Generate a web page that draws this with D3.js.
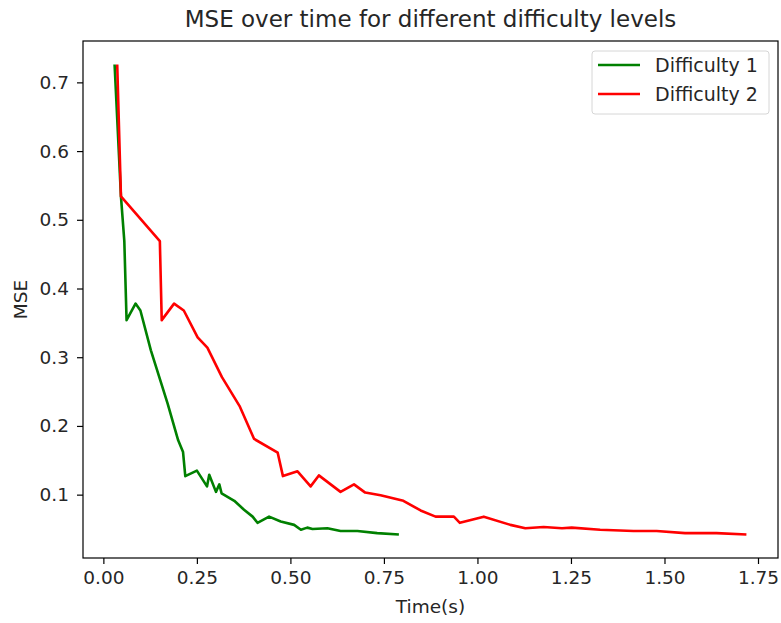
<!DOCTYPE html>
<html>
<head>
<meta charset="utf-8">
<script src="https://cdn.jsdelivr.net/npm/d3@7"></script>
<style>
  body { margin: 0; background: #fff; }
  svg { display: block; font-family: "DejaVu Sans", sans-serif; }
</style>
</head>
<body>
<svg id="chart" width="781" height="623"></svg>
<script>
// Difficulty 1 (green)
const time1 = [0.030, 0.047, 0.056, 0.062, 0.086, 0.099, 0.127, 0.172, 0.200, 0.213, 0.219, 0.250,
  0.277, 0.283, 0.301, 0.310, 0.316, 0.350, 0.376, 0.399, 0.412, 0.443, 0.474, 0.510, 0.528,
  0.545, 0.559, 0.599, 0.634, 0.679, 0.732, 0.790];
const mse1 = [0.726, 0.534, 0.469, 0.354, 0.378, 0.368, 0.310, 0.232, 0.179, 0.162, 0.127, 0.135,
  0.112, 0.129, 0.104, 0.115, 0.102, 0.091, 0.078, 0.068, 0.059, 0.068, 0.061, 0.056, 0.049,
  0.052, 0.050, 0.051, 0.047, 0.047, 0.044, 0.042];

// Difficulty 2 (red)
const time2 = [0.037, 0.047, 0.151, 0.156, 0.189, 0.215, 0.252, 0.278, 0.317, 0.365, 0.403, 0.466,
  0.480, 0.519, 0.554, 0.576, 0.634, 0.670, 0.700, 0.741, 0.802, 0.848, 0.888, 0.937, 0.953,
  1.017, 1.088, 1.128, 1.177, 1.226, 1.252, 1.328, 1.417, 1.479, 1.555, 1.639, 1.719];
const mse2 = [0.726, 0.534, 0.469, 0.354, 0.378, 0.368, 0.329, 0.314, 0.271, 0.228, 0.181, 0.161,
  0.127, 0.134, 0.112, 0.128, 0.104, 0.115, 0.103, 0.099, 0.091, 0.077, 0.068, 0.068, 0.059,
  0.068, 0.056, 0.051, 0.053, 0.051, 0.052, 0.049, 0.047, 0.047, 0.044, 0.044, 0.042];

const xTicks = [0, 0.25, 0.5, 0.75, 1.0, 1.25, 1.5, 1.75];
const yTicks = [0.1, 0.2, 0.3, 0.4, 0.5, 0.6, 0.7];

const seriesNames = ["Difficulty 1", "Difficulty 2"];
const seriesColors = ["green", "red"];

const series = [
  time1.map((t, i) => ({ t: t, v: mse1[i] })),
  time2.map((t, i) => ({ t: t, v: mse2[i] }))
];

const svg = d3.select("#chart");
const margin = { top: 41, right: 3, bottom: 65, left: 83 };
const width = 781, height = 623;
const innerWidth = width - margin.left - margin.right;
const innerHeight = height - margin.top - margin.bottom;
const fontSize = 18.5;

const g = svg.append("g")
  .attr("transform", `translate(${margin.left},${margin.top})`);

// matplotlib style 5% padding around the data
const allT = time1.concat(time2), allV = mse1.concat(mse2);
const tMin = d3.min(allT), tMax = d3.max(allT);
const vMin = d3.min(allV), vMax = d3.max(allV);
const tPad = (tMax - tMin) * 0.05, vPad = (vMax - vMin) * 0.05;

const x = d3.scaleLinear()
  .domain([tMin - tPad, tMax + tPad])
  .range([0, innerWidth]);

const y = d3.scaleLinear()
  .domain([vMin - vPad, vMax + vPad])
  .range([innerHeight, 0]);

// AXES
const xAxis = g.append("g")
  .attr("transform", `translate(0,${innerHeight})`)
  .call(d3.axisBottom(x).tickValues(xTicks).tickFormat(d3.format(".2f")).tickSizeOuter(0).tickSize(6).tickPadding(7));

const yAxis = g.append("g")
  .call(d3.axisLeft(y).tickValues(yTicks).tickFormat(d3.format(".1f")).tickSizeOuter(0).tickSize(6).tickPadding(8));

[xAxis, yAxis].forEach(a => {
  a.attr("font-size", fontSize).attr("font-family", "DejaVu Sans, sans-serif");
  a.select(".domain").remove();
  a.selectAll("line").attr("stroke", "#000").attr("stroke-width", 1.2);
  a.selectAll("text").attr("fill", "#262626");
});

// LINES
const line = d3.line()
  .x(d => x(d.t))
  .y(d => y(d.v));

series.forEach((s, i) => {
  g.append("path")
    .datum(s)
    .attr("fill", "none")
    .attr("stroke", seriesColors[i])
    .attr("stroke-width", 2.6)
    .attr("stroke-linejoin", "round")
    .attr("d", line);
});

// FRAME
g.append("rect")
  .attr("x", 0).attr("y", 0)
  .attr("width", innerWidth).attr("height", innerHeight)
  .attr("fill", "none")
  .attr("stroke", "#000")
  .attr("stroke-width", 1.2);

// LEGEND
const legend = g.append("g")
  .attr("transform", `translate(${innerWidth - 186},10)`);

legend.append("rect")
  .attr("width", 177).attr("height", 63)
  .attr("rx", 3)
  .attr("fill", "#fff")
  .attr("stroke", "#d6d6d6");

seriesNames.forEach((name, i) => {
  const row = legend.append("g").attr("transform", `translate(0,${14 + i * 29})`);
  row.append("line")
    .attr("x1", 6).attr("x2", 48)
    .attr("stroke", seriesColors[i])
    .attr("stroke-width", 2.6);
  row.append("text")
    .attr("x", 63).attr("dy", "0.35em")
    .attr("fill", "#262626")
    .attr("font-size", fontSize + 0.5)
    .text(name);
});

// TITLE + LABELS
svg.append("text")
  .attr("x", margin.left + innerWidth / 2)
  .attr("y", 27)
  .attr("text-anchor", "middle")
  .attr("fill", "#262626")
  .attr("font-size", 23)
  .text("MSE over time for different difficulty levels");

svg.append("text")
  .attr("x", margin.left + innerWidth / 2)
  .attr("y", 613)
  .attr("text-anchor", "middle")
  .attr("fill", "#262626")
  .attr("font-size", fontSize)
  .text("Time(s)");

svg.append("text")
  .attr("transform", `translate(27,${margin.top + innerHeight / 2}) rotate(-90)`)
  .attr("text-anchor", "middle")
  .attr("fill", "#262626")
  .attr("font-size", fontSize)
  .text("MSE");
</script>
</body>
</html>
